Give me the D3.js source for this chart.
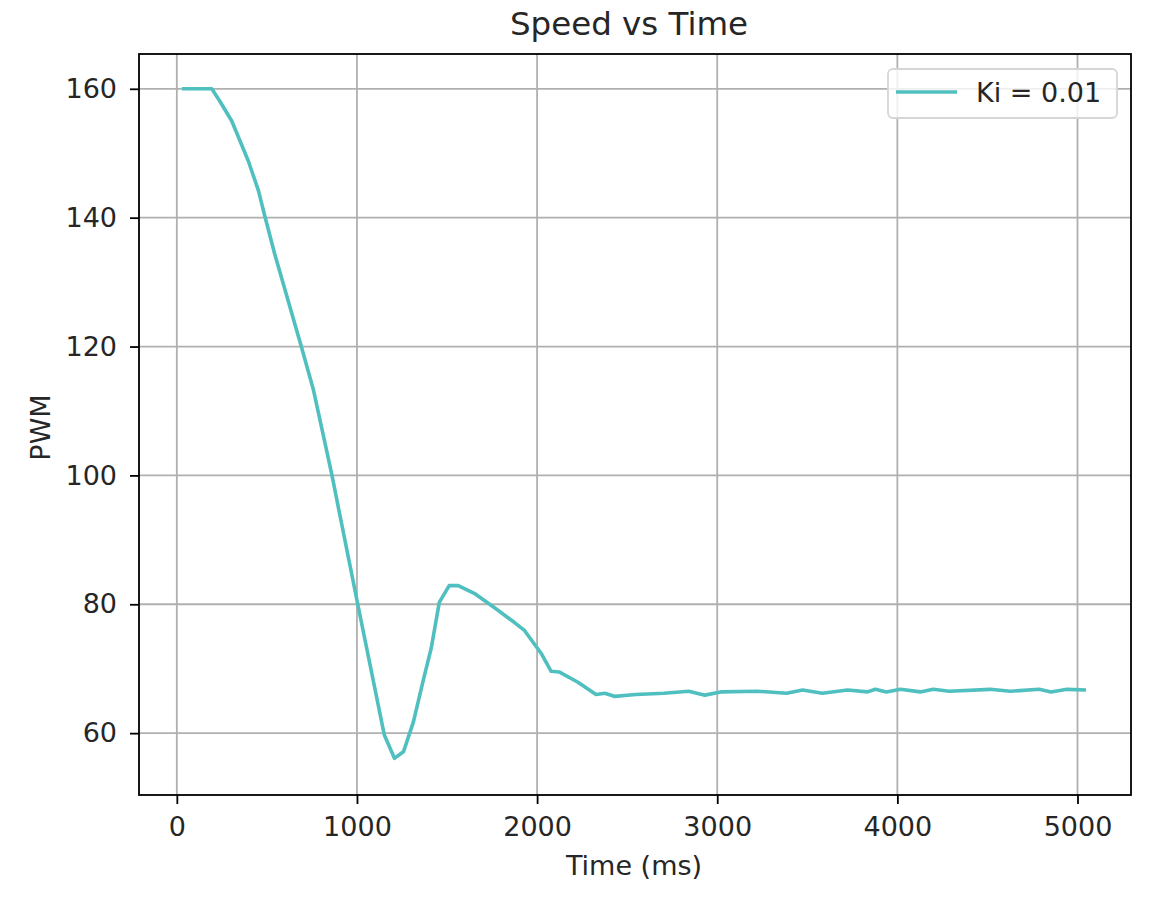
<!DOCTYPE html>
<html><head><meta charset="utf-8">
<script src="https://cdn.jsdelivr.net/npm/d3@7"></script>
<style>body{margin:0;background:#fff}svg text{font-family:"DejaVu Sans",sans-serif;fill:#262626}</style>
</head><body>
<svg id="c" width="1172" height="902"></svg>
<script>
const timeMs = [28,194,238,305,397,453,488,543,693,759,859,1003,1152,1208,1258,1313,1368,1413,1457,1512,1562,1651,1762,1873,1928,2022,2078,2122,2227,2327,2377,2432,2548,2704,2842,2931,3019,3224,3385,3474,3584,3723,3834,3878,3939,4017,4127,4199,4288,4515,4626,4787,4853,4942,5047];
const pwm = [160,160,158.1,155.0,148.8,144.2,140.3,134.4,119.8,113.2,100.3,80.2,59.7,56.1,57.1,61.7,68.2,73.3,80.3,82.9,82.9,81.7,79.5,77.2,76.0,72.4,69.6,69.5,67.9,66.0,66.2,65.7,66.0,66.2,66.5,65.9,66.4,66.5,66.2,66.7,66.2,66.7,66.4,66.8,66.4,66.8,66.4,66.8,66.5,66.8,66.5,66.8,66.4,66.8,66.7];
const xTicks = [0,1000,2000,3000,4000,5000];
const yTicks = [60,80,100,120,140,160];
const seriesLabel = "Ki = 0.01";
const title = "Speed vs Time", xLabel = "Time (ms)", yLabel = "PWM";

const L=139,R=1131,T=54,B=795, color="#4fbfbf", FS=27;
const svg=d3.select("#c");
const x=d3.scaleLinear().domain([-210,5297]).range([L,R]);
const y=d3.scaleLinear().domain([50.4,165.4]).range([B,T]);

// grid
svg.append("g").selectAll("line").data(xTicks).join("line")
  .attr("x1",d=>x(d)).attr("x2",d=>x(d)).attr("y1",T).attr("y2",B)
  .attr("stroke","#b0b0b0").attr("stroke-width",1.8);
svg.append("g").selectAll("line").data(yTicks).join("line")
  .attr("y1",d=>y(d)).attr("y2",d=>y(d)).attr("x1",L).attr("x2",R)
  .attr("stroke","#b0b0b0").attr("stroke-width",1.8);

// line
svg.append("path").datum(timeMs.map((t,i)=>[t,pwm[i]]))
  .attr("d",d3.line().x(d=>x(d[0])).y(d=>y(d[1])))
  .attr("fill","none").attr("stroke",color).attr("stroke-width",3.6)
  .attr("stroke-linejoin","round").attr("stroke-linecap","butt");

// axes
const xa=svg.append("g").attr("transform",`translate(0,${B})`)
  .call(d3.axisBottom(x).tickValues(xTicks).tickFormat(d3.format("d")).tickSizeInner(9).tickSizeOuter(0).tickPadding(13));
const ya=svg.append("g").attr("transform",`translate(${L},0)`)
  .call(d3.axisLeft(y).tickValues(yTicks).tickFormat(d3.format("d")).tickSizeInner(9).tickSizeOuter(0).tickPadding(13));
[xa,ya].forEach(a=>{a.select(".domain").remove();a.selectAll("line").attr("stroke","#000").attr("stroke-width",1.8);
  a.selectAll("text").attr("font-size",FS).attr("font-family","DejaVu Sans").attr("fill","#262626");});
svg.append("rect").attr("x",L).attr("y",T).attr("width",R-L).attr("height",B-T)
  .attr("fill","none").attr("stroke","#000").attr("stroke-width",1.8);

// labels
svg.append("text").attr("x",(L+R)/2-6).attr("y",35).attr("text-anchor","middle").attr("font-size",32.5).text(title);
svg.append("text").attr("x",(L+R)/2-1).attr("y",875).attr("text-anchor","middle").attr("font-size",FS).text(xLabel);
svg.append("text").attr("transform",`translate(50,${(T+B)/2+3}) rotate(-90)`).attr("text-anchor","middle").attr("font-size",FS).text(yLabel);

// legend
const lg=svg.append("g");
lg.append("rect").attr("x",888).attr("y",69).attr("width",229).attr("height",49).attr("rx",5)
  .attr("fill","rgba(255,255,255,0.8)").attr("stroke","#d6d6d6").attr("stroke-width",1.8);
lg.append("line").attr("x1",896).attr("x2",957).attr("y1",92).attr("y2",92).attr("stroke",color).attr("stroke-width",3.6);
lg.append("text").attr("x",976).attr("y",102).attr("font-size",FS).text(seriesLabel);
</script>
</body></html>
